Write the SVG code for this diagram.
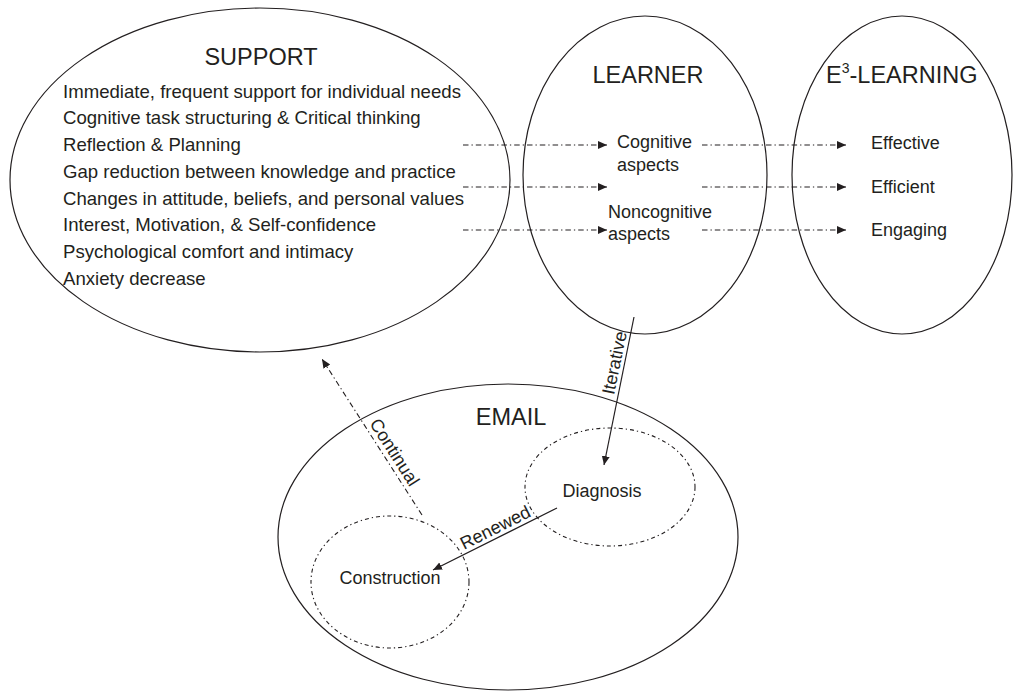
<svg xmlns="http://www.w3.org/2000/svg" width="1019" height="692" viewBox="0 0 1019 692">
  <defs>
    <marker id="head" markerUnits="userSpaceOnUse" markerWidth="10" markerHeight="10" viewBox="0 0 10 10" refX="9" refY="5" orient="auto">
      <path d="M0,1 L9,5 L0,9 Z" fill="#231f20"/>
    </marker>
    <style>
      .ring { fill: none; stroke: #231f20; stroke-width: 1.2; }
      .ring-dash { fill: none; stroke: #231f20; stroke-width: 1.1; stroke-dasharray: 4 3 1.3 3; }
      .flow { fill: none; stroke: #231f20; stroke-width: 1.1; stroke-dasharray: 5.5 3 1.3 3; marker-end: url(#head); }
      .solid { fill: none; stroke: #231f20; stroke-width: 1.2; marker-end: url(#head); }
      text { font-family: "Liberation Sans", Arial, sans-serif; fill: #231f20; }
      .title { font-size: 23.5px; }
      .item { font-size: 18.6px; }
      .lbl { font-size: 18px; }
    </style>
  </defs>

  <g id="support">
    <ellipse class="ring" cx="260" cy="180" rx="250" ry="172"/>
    <text class="title" x="261" y="65" text-anchor="middle">SUPPORT</text>
    <text class="item" x="63" y="97.7">Immediate, frequent support for individual needs</text>
    <text class="item" x="63" y="124.4">Cognitive task structuring &amp; Critical thinking</text>
    <text class="item" x="63" y="151.1">Reflection &amp; Planning</text>
    <text class="item" x="63" y="177.8">Gap reduction between knowledge and practice</text>
    <text class="item" x="63" y="204.5">Changes in attitude, beliefs, and personal values</text>
    <text class="item" x="63" y="231.2">Interest, Motivation, &amp; Self-confidence</text>
    <text class="item" x="63" y="257.9">Psychological comfort and intimacy</text>
    <text class="item" x="63" y="284.6">Anxiety decrease</text>
  </g>

  <g id="learner">
    <ellipse class="ring" cx="645" cy="175" rx="122" ry="159"/>
    <text class="title" x="648" y="83" text-anchor="middle">LEARNER</text>
    <text class="lbl" x="617" y="148.3">Cognitive</text>
    <text class="lbl" x="617" y="170.5">aspects</text>
    <text class="lbl" x="608" y="218.3">Noncognitive</text>
    <text class="lbl" x="608" y="239.5">aspects</text>
  </g>

  <g id="e3-learning">
    <ellipse class="ring" cx="902" cy="175" rx="110" ry="159"/>
    <text class="title" x="826" y="83">E<tspan font-size="14" dy="-10">3</tspan><tspan dy="10">-LEARNING</tspan></text>
    <text class="lbl" x="871" y="149">Effective</text>
    <text class="lbl" x="871" y="192.5">Efficient</text>
    <text class="lbl" x="871" y="236">Engaging</text>
  </g>

  <g id="email">
    <ellipse class="ring" cx="508" cy="537" rx="230" ry="153"/>
    <text class="title" x="511" y="425" text-anchor="middle">EMAIL</text>
  </g>

  <g id="diagnosis">
    <ellipse class="ring-dash" cx="610" cy="487" rx="85" ry="59"/>
    <text class="lbl" x="602" y="497" text-anchor="middle">Diagnosis</text>
  </g>

  <g id="construction">
    <ellipse class="ring-dash" cx="390" cy="582" rx="79" ry="66"/>
    <text class="lbl" x="390" y="584" text-anchor="middle">Construction</text>
  </g>

  <g id="connectors">
    <!-- support to learner -->
    <line class="flow" x1="463" y1="145" x2="607" y2="145"/>
    <line class="flow" x1="463" y1="187" x2="607" y2="187"/>
    <line class="flow" x1="463" y1="230" x2="607" y2="230"/>
    <!-- learner to E3-learning -->
    <line class="flow" x1="702" y1="145" x2="846" y2="145"/>
    <line class="flow" x1="702" y1="187" x2="846" y2="187"/>
    <line class="flow" x1="702" y1="230" x2="846" y2="230"/>
    <!-- learner to diagnosis -->
    <line class="solid" x1="634" y1="317" x2="604" y2="465"/>
    <text class="lbl" text-anchor="middle" transform="translate(620.5 364) rotate(-78.5)">Iterative</text>
    <!-- diagnosis to construction -->
    <line class="solid" x1="557" y1="508" x2="433" y2="570"/>
    <text class="lbl" text-anchor="middle" transform="translate(498 533) rotate(-26.6)">Renewed</text>
    <!-- construction back to support -->
    <line class="flow" x1="422" y1="515" x2="322" y2="359"/>
    <text class="lbl" text-anchor="middle" transform="translate(389.5 455.5) rotate(57.4)">Continual</text>
  </g>
</svg>
